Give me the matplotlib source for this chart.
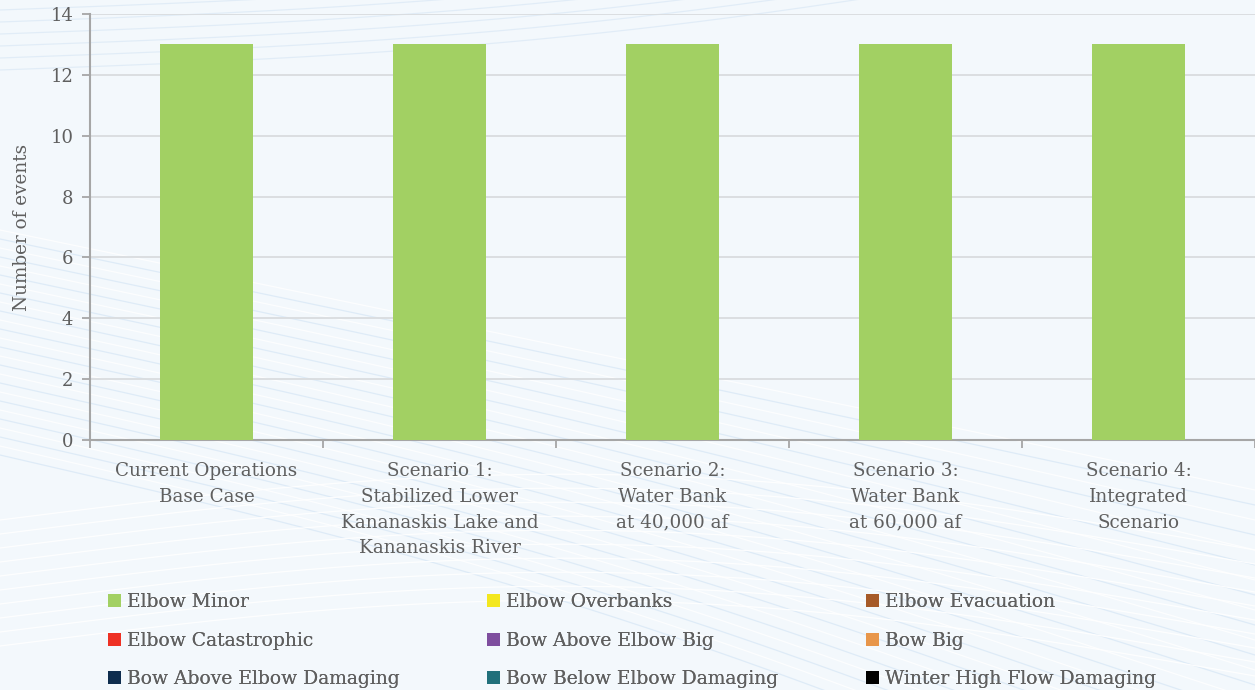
import numpy as np
import matplotlib.pyplot as plt
from matplotlib.patches import Patch

# Flood event counts per operating scenario
scenarios = ['Current Operations\nBase Case',
             'Scenario 1:\nStabilized Lower\nKananaskis Lake and\nKananaskis River',
             'Scenario 2:\nWater Bank\nat 40,000 af',
             'Scenario 3:\nWater Bank\nat 60,000 af',
             'Scenario 4:\nIntegrated\nScenario']

series_names = ['Elbow Minor', 'Elbow Overbanks', 'Elbow Evacuation',
                'Elbow Catastrophic', 'Bow Above Elbow Big', 'Bow Big',
                'Bow Above Elbow Damaging', 'Bow Below Elbow Damaging',
                'Winter High Flow Damaging']

elbow_minor = [13, 13, 13, 13, 13]
elbow_overbanks = [0, 0, 0, 0, 0]
elbow_evacuation = [0, 0, 0, 0, 0]
elbow_catastrophic = [0, 0, 0, 0, 0]
bow_above_elbow_big = [0, 0, 0, 0, 0]
bow_big = [0, 0, 0, 0, 0]
bow_above_elbow_damaging = [0, 0, 0, 0, 0]
bow_below_elbow_damaging = [0, 0, 0, 0, 0]
winter_high_flow_damaging = [0, 0, 0, 0, 0]

series_values = [elbow_minor, elbow_overbanks, elbow_evacuation,
                 elbow_catastrophic, bow_above_elbow_big, bow_big,
                 bow_above_elbow_damaging, bow_below_elbow_damaging,
                 winter_high_flow_damaging]

colors = ['#A2D063', '#F3E71F', '#A65A28', '#EE3124', '#7E4E9E',
          '#E8964A', '#0E2D4E', '#21707B', '#000000']

text_color = '#5F5F5F'
bg_color = '#F3F8FC'
plt.rcParams['font.family'] = ['DejaVu Serif']

fig = plt.figure(figsize=(12.55, 6.9), dpi=100)
fig.patch.set_facecolor(bg_color)

# faint swirl texture behind everything
bg = fig.add_axes([0, 0, 1, 1], zorder=-5)
bg.set_xlim(0, 1255)
bg.set_ylim(690, 0)
bg.axis('off')
xs = np.linspace(0, 1255, 300)
for i in range(26):
    y0 = 230 + i * 9
    ys = y0 + (xs / 1255) * (260 + i * 6) - 40 * np.sin(xs / 1255 * np.pi) * (i / 26)
    bg.plot(xs, ys, color='#D9E8F6' if i % 2 else '#FFFFFF', lw=0.9, alpha=0.8)
for i in range(10):
    y0 = 70 - i * 12
    ys = y0 - (xs / 1255) * 140 + 30 * np.sin(xs / 1255 * np.pi)
    bg.plot(xs, ys, color='#DDEAF6', lw=0.9, alpha=0.8)
for i in range(10):
    y0 = 520 + i * 14
    ys = y0 - 60 * np.sin(xs / 1255 * np.pi) + (xs / 1255) * 30
    bg.plot(xs, ys, color='#FFFFFF', lw=0.9, alpha=0.9)

ax = fig.add_axes([90 / 1255, 1 - 440 / 690, 1 - 90 / 1255, (440 - 14) / 690])
ax.set_facecolor('none')

x = np.arange(len(scenarios))
bottom = np.zeros(len(scenarios))
handles = []
for name, vals, c in zip(series_names, series_values, colors):
    ax.bar(x, vals, width=0.4, bottom=bottom, color=c, zorder=3)
    bottom += np.array(vals)
    handles.append(Patch(facecolor=c, label=name))

ax.set_xlim(-0.5, len(scenarios) - 0.5)
ax.set_ylim(0, 14)
ax.set_yticks(range(0, 15, 2))
ax.yaxis.grid(True, color='#D9DCDF', lw=1.3, zorder=0)
ax.tick_params(axis='y', colors='#A6A6A6', length=6, width=1.3,
               labelcolor=text_color, labelsize=13, pad=6)

# category boundaries carry the tick marks, centres carry the labels
ax.set_xticks(np.arange(len(scenarios) + 1) - 0.5)
ax.set_xticklabels([])
ax.set_xticks(x, minor=True)
ax.set_xticklabels(scenarios, minor=True, fontsize=13.2, color=text_color,
                   linespacing=1.55, va='top')
ax.tick_params(axis='x', which='major', colors='#A6A6A6', length=6, width=1.3)
ax.tick_params(axis='x', which='minor', length=0, pad=16)

for side in ['top', 'right']:
    ax.spines[side].set_visible(False)
for side in ['left', 'bottom']:
    ax.spines[side].set_color('#A6A6A6')
    ax.spines[side].set_linewidth(1.5)

ax.set_ylabel('Number of events', fontsize=13.2, color=text_color, labelpad=14)

# legend laid out as three columns, filled row by row
col_x = [108 / 1255, 487 / 1255, 866 / 1255]
for col in range(3):
    leg = fig.legend(handles=handles[col::3], loc='upper left',
                     bbox_to_anchor=(col_x[col], 1 - 593 / 690),
                     frameon=False, fontsize=13.5, labelcolor=text_color,
                     handlelength=0.7, handleheight=0.7, handletextpad=0.3,
                     labelspacing=1.1, borderaxespad=0, borderpad=0)
    fig.add_artist(leg)

fig.savefig('out.png', dpi=100, facecolor=fig.get_facecolor())
